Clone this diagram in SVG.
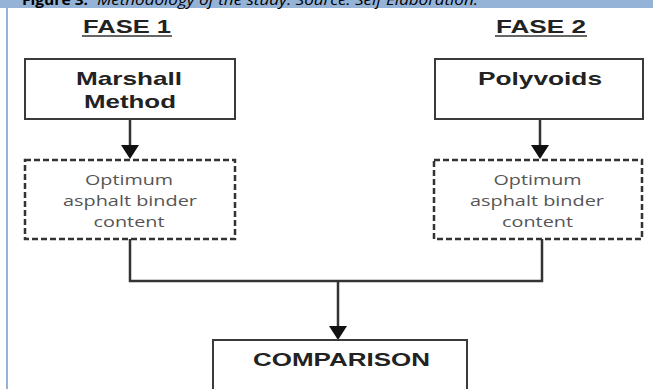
<svg xmlns="http://www.w3.org/2000/svg" width="653" height="389" viewBox="0 0 653 389">
<defs>
<style>
.frame{fill:#95b3d7}
.cap{font-family:"Open Sans","Liberation Sans",sans-serif;font-size:14px;fill:#000}
.head{font-family:"Liberation Sans",Arial,sans-serif;font-size:19px;font-weight:bold;fill:#222;text-anchor:middle}
.uline{stroke:#333;stroke-width:1.6}
.box{fill:#fff;stroke:#3a3a3a;stroke-width:2}
.dbox{fill:#fff;stroke:#333;stroke-width:2.5;stroke-dasharray:6 3}
.bt{font-family:"Liberation Sans",Arial,sans-serif;font-size:19px;font-weight:bold;fill:#222;text-anchor:middle}
.st{font-family:"Open Sans","Liberation Sans",sans-serif;font-size:15px;fill:#555;text-anchor:middle}
.line{fill:none;stroke:#333;stroke-width:2.5}
.head-ar{fill:#111}
</style>
</defs>
<rect x="0" y="0" width="653" height="389" fill="#fff"/>
<rect class="frame" x="0" y="0" width="653" height="8"/>
<rect class="frame" x="6" y="8" width="2" height="381"/>
<text class="cap" x="22" y="4.5" font-weight="bold" textLength="66" lengthAdjust="spacingAndGlyphs">Figure 3.</text>
<text class="cap" x="97" y="4.5" font-style="italic" textLength="381" lengthAdjust="spacingAndGlyphs">Methodology of the study. Source: Self Elaboration.</text>
<text class="head" x="127" y="33" textLength="88" lengthAdjust="spacingAndGlyphs">FASE 1</text>
<line class="uline" x1="82" y1="36" x2="172" y2="36"/>
<text class="head" x="541" y="33" textLength="90" lengthAdjust="spacingAndGlyphs">FASE 2</text>
<line class="uline" x1="495" y1="36" x2="587" y2="36"/>
<g id="connectors">
<line class="line" x1="130" y1="119" x2="130" y2="150"/>
<path class="head-ar" d="M121,145 L139,145 L130,159 z"/>
<line class="line" x1="540" y1="119" x2="540" y2="150"/>
<path class="head-ar" d="M531,145 L549,145 L540,159 z"/>
<path class="line" d="M130,239 V281 H542 V239"/>
<line class="line" x1="338" y1="281" x2="338" y2="330"/>
<path class="head-ar" d="M329,326 L347,326 L338,340 z"/>
</g>
<g id="marshall">
<rect class="box" x="25" y="59" width="210" height="60"/>
<text class="bt" x="129" y="85" textLength="106" lengthAdjust="spacingAndGlyphs">Marshall</text>
<text class="bt" x="130" y="108" textLength="92" lengthAdjust="spacingAndGlyphs">Method</text>
</g>
<g id="polyvoids">
<rect class="box" x="435" y="59" width="208" height="60"/>
<text class="bt" x="540" y="85" textLength="124" lengthAdjust="spacingAndGlyphs">Polyvoids</text>
</g>
<g id="opt1">
<rect class="dbox" x="25" y="160" width="210" height="79"/>
<text class="st" x="129" y="185" textLength="88" lengthAdjust="spacingAndGlyphs">Optimum</text>
<text class="st" x="130" y="206" textLength="134" lengthAdjust="spacingAndGlyphs">asphalt binder</text>
<text class="st" x="129" y="227" textLength="71" lengthAdjust="spacingAndGlyphs">content</text>
</g>
<g id="opt2">
<rect class="dbox" x="434" y="160" width="208" height="79"/>
<text class="st" x="537.5" y="185" textLength="88" lengthAdjust="spacingAndGlyphs">Optimum</text>
<text class="st" x="537" y="206" textLength="134" lengthAdjust="spacingAndGlyphs">asphalt binder</text>
<text class="st" x="537.5" y="227" textLength="71" lengthAdjust="spacingAndGlyphs">content</text>
</g>
<g id="comparison">
<rect class="box" x="213" y="340" width="254" height="60"/>
<text class="bt" x="341.5" y="366" textLength="177" lengthAdjust="spacingAndGlyphs">COMPARISON</text>
</g>
</svg>
